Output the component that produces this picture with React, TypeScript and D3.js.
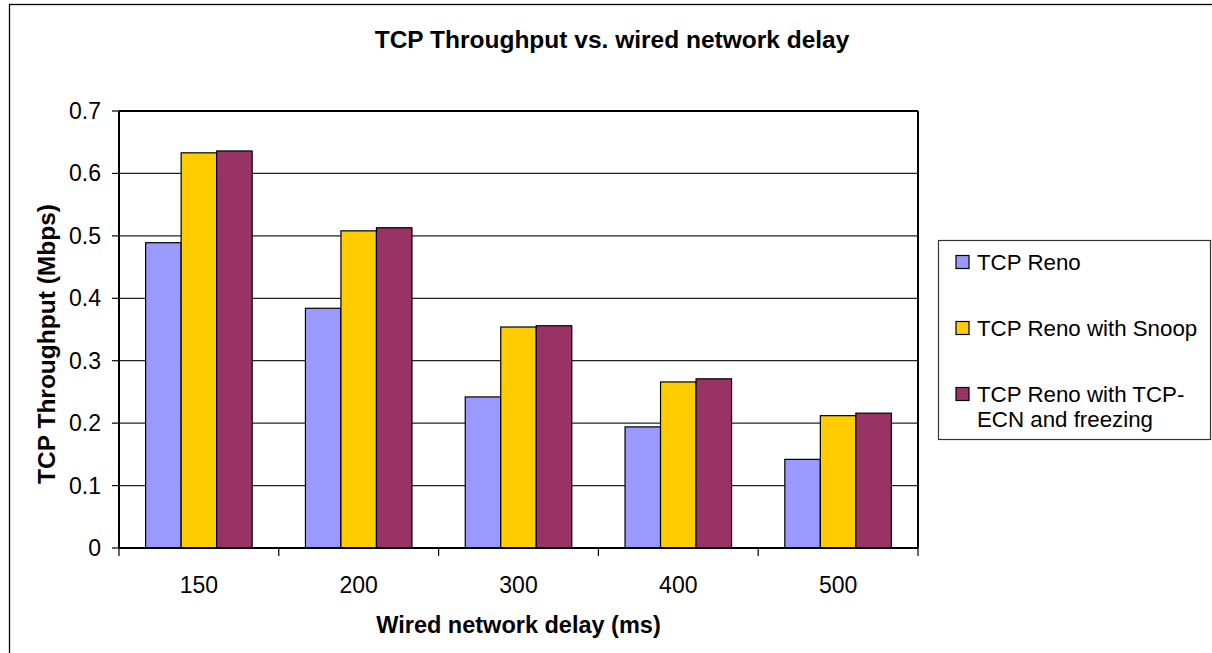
import React from "react";
import * as d3 from "d3";

const categories = ["150", "200", "300", "400", "500"];
const seriesNames = ["TCP Reno", "TCP Reno with Snoop", "TCP Reno with TCP-ECN and freezing"];
const renoValues = [0.489, 0.384, 0.242, 0.194, 0.142];
const snoopValues = [0.633, 0.508, 0.354, 0.266, 0.212];
const ecnValues = [0.636, 0.513, 0.356, 0.271, 0.216];
const yTicks = [0, 0.1, 0.2, 0.3, 0.4, 0.5, 0.6, 0.7];
const colors = ["#9999FF", "#FFCC00", "#993366"];
const legendLines = [["TCP Reno"], ["TCP Reno with Snoop"], ["TCP Reno with TCP-", "ECN and freezing"]];

const W = 1212;
const H = 653;
const plot = { left: 119, right: 918, top: 111, bottom: 548 };
const FONT = "'Liberation Sans', Arial, sans-serif";

export default function App() {
  const seriesValues = [renoValues, snoopValues, ecnValues];
  const x0 = d3.scaleBand<string>().domain(categories).range([plot.left, plot.right]).paddingInner(0).paddingOuter(0);
  const bw = x0.bandwidth() / 4.5;
  const x1 = d3.scaleBand<string>().domain(seriesNames).range([0, bw * 3]);
  const groupOffset = (x0.bandwidth() - bw * 3) / 2;
  const y = d3.scaleLinear().domain([0, 0.7]).range([plot.bottom, plot.top]);
  const fmt = (v: number) => (v === 0 ? "0" : d3.format(".1f")(v));

  const boundaries = [...categories.map((c) => x0(c) as number), plot.right];

  return (
    <svg width={W} height={H} style={{ position: "absolute", left: 0, top: 0, background: "#fff" }} fontFamily={FONT}>
      <rect x={0} y={0} width={W} height={H} fill="#fff" />
      {/* outer chart border */}
      <rect x={9.5} y={4.5} width={W + 20} height={H + 20} fill="none" stroke="#000" strokeWidth={1.3} />

      {/* title */}
      <text x={612} y={48} textAnchor="middle" fontSize={24.5} fontWeight="bold" fill="#000">
        TCP Throughput vs. wired network delay
      </text>

      {/* gridlines */}
      {yTicks.filter((t) => t > 0 && t < 0.7).map((t) => (
        <line key={"g" + t} x1={plot.left} x2={plot.right} y1={y(t)} y2={y(t)} stroke="#222" strokeWidth={1.2} />
      ))}

      {/* bars */}
      {categories.map((c, ci) => (
        <g key={c} transform={`translate(${(x0(c) as number) + groupOffset},0)`}>
          {seriesNames.map((s, si) => (
            <rect
              key={s}
              x={x1(s) as number}
              y={y(seriesValues[si][ci])}
              width={x1.bandwidth()}
              height={plot.bottom - y(seriesValues[si][ci])}
              fill={colors[si]}
              stroke="#000"
              strokeWidth={1.2}
            />
          ))}
        </g>
      ))}

      {/* plot frame */}
      <line x1={plot.left} x2={plot.right} y1={plot.top} y2={plot.top} stroke="#000" strokeWidth={2} />
      <line x1={plot.right} x2={plot.right} y1={plot.top} y2={plot.bottom} stroke="#000" strokeWidth={2} />
      <line x1={plot.left} x2={plot.left} y1={plot.top} y2={plot.bottom} stroke="#000" strokeWidth={2} />
      <line x1={plot.left} x2={plot.right} y1={plot.bottom} y2={plot.bottom} stroke="#000" strokeWidth={2} />

      {/* y ticks and labels */}
      {yTicks.map((t) => (
        <g key={"y" + t}>
          <line x1={plot.left - 7} x2={plot.left} y1={y(t)} y2={y(t)} stroke="#000" strokeWidth={1.2} />
          <text x={101} y={y(t)} dy="0.35em" textAnchor="end" fontSize={23} fill="#000">
            {fmt(t)}
          </text>
        </g>
      ))}

      {/* x ticks and labels */}
      {boundaries.map((bx, i) => (
        <line key={"xt" + i} x1={bx} x2={bx} y1={plot.bottom} y2={plot.bottom + 8} stroke="#000" strokeWidth={1.2} />
      ))}
      {categories.map((c) => (
        <text key={"xl" + c} x={(x0(c) as number) + x0.bandwidth() / 2} y={593} textAnchor="middle" fontSize={23} fill="#000">
          {c}
        </text>
      ))}

      {/* axis titles */}
      <text x={518.5} y={633} textAnchor="middle" fontSize={23.5} fontWeight="bold" fill="#000">
        Wired network delay (ms)
      </text>
      <text transform="translate(55,344) rotate(-90)" textAnchor="middle" fontSize={24.5} fontWeight="bold" fill="#000">
        TCP Throughput (Mbps)
      </text>

      {/* legend */}
      <rect x={938.5} y={240.5} width={272} height={199} fill="#fff" stroke="#333" strokeWidth={1.2} />
      {legendLines.map((lines, i) => {
        const base = [270, 336, 402][i];
        return (
          <g key={"lg" + i}>
            <rect x={956} y={base - 14.5} width={13} height={13} fill={colors[i]} stroke="#000" strokeWidth={1.2} />
            {lines.map((ln, li) => (
              <text key={li} x={977} y={base + li * 25} fontSize={22.3} fill="#000">
                {ln}
              </text>
            ))}
          </g>
        );
      })}
    </svg>
  );
}
